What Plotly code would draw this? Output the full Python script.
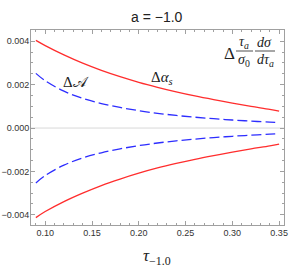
import plotly.graph_objects as go

tau = [0.09, 0.10, 0.12, 0.14, 0.16, 0.18, 0.20, 0.22, 0.24, 0.26, 0.28, 0.30, 0.32, 0.34, 0.35]
red_upper = [0.00404, 0.00380, 0.00337, 0.00299, 0.00266, 0.00237, 0.00211, 0.00188,
             0.00167, 0.00148, 0.00131, 0.00115, 0.00100, 0.00086, 0.00078]
red_lower = [-0.00413, -0.00385, -0.00339, -0.00300, -0.00265, -0.00235, -0.00208, -0.00184,
             -0.00163, -0.00144, -0.00127, -0.00111, -0.00096, -0.00082, -0.00074]
blue_upper = [0.00252, 0.00218, 0.00170, 0.00137, 0.00113, 0.00095, 0.00080, 0.00068,
              0.00058, 0.00050, 0.00043, 0.00037, 0.00032, 0.00027, 0.00025]
blue_lower = [-0.00253, -0.00219, -0.00171, -0.00138, -0.00114, -0.00096, -0.00081, -0.00069,
              -0.00059, -0.00051, -0.00044, -0.00038, -0.00033, -0.00028, -0.00026]

x_ticks = [0.10, 0.15, 0.20, 0.25, 0.30, 0.35]
x_labels = ["0.10", "0.15", "0.20", "0.25", "0.30", "0.35"]
y_ticks = [-0.004, -0.002, 0.0, 0.002, 0.004]
y_labels = ["\u22120.004", "\u22120.002", "0.000", "0.002", "0.004"]

RED = "rgb(255,45,45)"
BLUE = "rgb(45,45,255)"

fig = go.Figure()
for ys in (red_upper, red_lower):
    fig.add_trace(go.Scatter(x=tau, y=ys, mode="lines", line=dict(color=RED, width=1.3, shape="spline"),
                             showlegend=False, hoverinfo="skip"))
for ys in (blue_upper, blue_lower):
    fig.add_trace(go.Scatter(x=tau, y=ys, mode="lines",
                             line=dict(color=BLUE, width=1.3, shape="spline", dash="10px,4px"),
                             showlegend=False, hoverinfo="skip"))

W, H = 289, 273
L, R, T, B = 31, 5, 30, 48
pw, ph = W - L - R, H - T - B


def px(xp):
    return (xp - L) / pw


def py(yp):
    return (H - B - yp) / ph


axis_common = dict(showline=True, linecolor="#a0a0a0", linewidth=1, mirror="allticks",
                   ticks="inside", ticklen=4, tickcolor="#a0a0a0", showgrid=False, zeroline=False,
                   ticklabeloverflow="allow", automargin=False,
                   tickfont=dict(family="Liberation Sans, Arial", size=9, color="#333333"))

fig.update_layout(
    width=W, height=H, margin=dict(l=L, r=R, t=T, b=B, autoexpand=False),
    paper_bgcolor="white", plot_bgcolor="white",
    xaxis=dict(range=[0.0848, 0.3552], tickvals=x_ticks, ticktext=x_labels, ticklabelstandoff=-1,
               minor=dict(dtick=0.01, tick0=0.0, ticks="inside", ticklen=2, tickcolor="#a0a0a0"),
               **axis_common),
    yaxis=dict(range=[-0.00447, 0.00452], tickvals=y_ticks, ticktext=y_labels, ticklabelstandoff=-1,
               minor=dict(dtick=0.0005, tick0=0.0, ticks="inside", ticklen=2, tickcolor="#a0a0a0"),
               **axis_common),
)

# zero line
fig.add_shape(type="line", xref="paper", yref="y", x0=0, x1=1, y0=0, y1=0,
              line=dict(color="#d8d8d8", width=1), layer="below")

serif = "Liberation Serif, Times New Roman, serif"
ann = []
ann.append(dict(text="a = \u22121.0", x=px(157), y=py(17), font=dict(family="Liberation Sans, Arial", size=14, color="#222")))
ann.append(dict(text="<i>\u03c4</i><sub>\u22121.0</sub>", x=px(157), y=py(257),
                font=dict(family=serif, size=17, color="#222")))
ann.append(dict(text="\u0394\U0001D49C", x=px(76), y=py(82), font=dict(family=serif, size=15, color="#222")))
ann.append(dict(text="\u0394<i>\u03b1</i><sub><i>s</i></sub>", x=px(162), y=py(78),
                font=dict(family=serif, size=15, color="#222")))
ann.append(dict(text="\u0394", x=px(229), y=py(53), font=dict(family=serif, size=17, color="#222")))
ann.append(dict(text="<i>\u03c4</i><sub><i>a</i></sub>", x=px(244), y=py(42), font=dict(family=serif, size=14, color="#222")))
ann.append(dict(text="<i>\u03c3</i><sub>0</sub>", x=px(244), y=py(60), font=dict(family=serif, size=14, color="#222")))
ann.append(dict(text="<i>d\u03c3</i>", x=px(264), y=py(42), font=dict(family=serif, size=14, color="#222")))
ann.append(dict(text="<i>d\u03c4</i><sub><i>a</i></sub>", x=px(265), y=py(60), font=dict(family=serif, size=14, color="#222")))
for a in ann:
    a.update(xref="paper", yref="paper", showarrow=False, xanchor="center", yanchor="middle")
fig.update_layout(annotations=ann)

fig.add_shape(type="line", xref="paper", yref="paper", x0=px(236), x1=px(253), y0=py(51), y1=py(51),
              line=dict(color="#222", width=0.8))
fig.add_shape(type="line", xref="paper", yref="paper", x0=px(255), x1=px(275), y0=py(51), y1=py(51),
              line=dict(color="#222", width=0.8))

fig.write_html("out.html", config={"displayModeBar": False},
               post_script="document.body.style.margin='0';document.body.style.overflow='hidden';")
